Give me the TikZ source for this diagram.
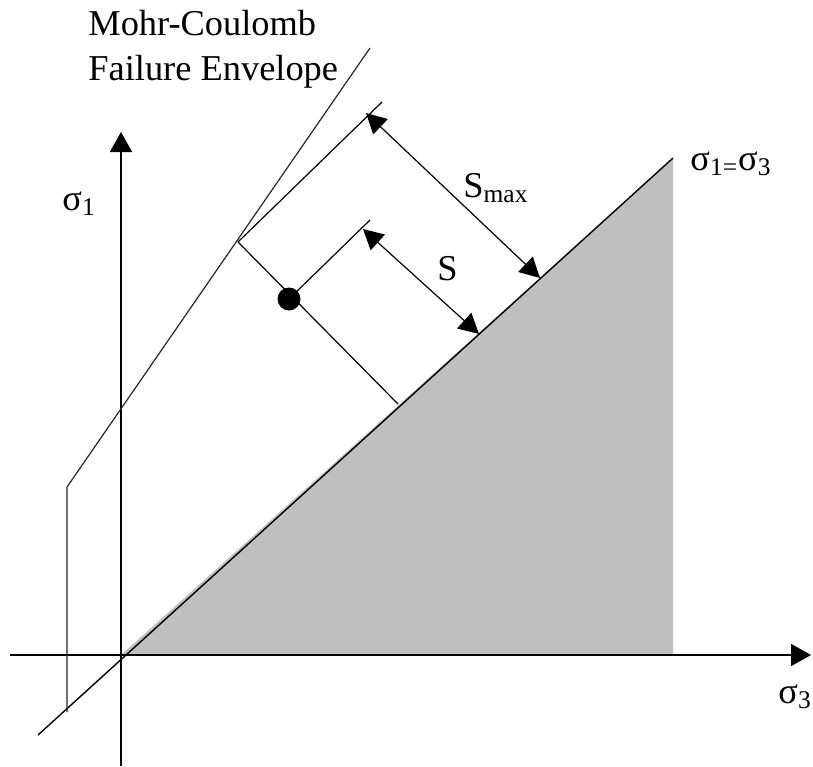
\documentclass[tikz,border=0pt]{standalone}
\usepackage{fontspec}
\setmainfont{Liberation Serif}
\usetikzlibrary{arrows.meta}
\begin{document}
\begin{tikzpicture}[x=0.5pt, y=-0.5pt]
        \useasboundingbox (0,0) rectangle (813,766);
        \tikzstyle{every node}=[inner sep=0pt, font=\fontsize{18.2}{22.5}\selectfont]
        \tikzstyle{tip}=[-{Triangle[length=10pt, width=11pt]}]
        \tikzstyle{both}=[{Triangle[length=10pt, width=10.5pt]}-{Triangle[length=10pt, width=10.5pt]}]
        % points of the plot
        \coordinate (o)      at (121, 655);
        \coordinate (xs)     at (10,  655);
        \coordinate (xe)     at (811, 655);
        \coordinate (ys)     at (121, 766);
        \coordinate (ye)     at (121, 132);
        \coordinate (dlow)   at (38,  735);
        \coordinate (dtop)   at (673, 158);
        \coordinate (dfoot)  at (673, 655);
        \coordinate (elow)   at (67,  712);
        \coordinate (ekink)  at (67,  487);
        \coordinate (etop)   at (370, 48);
        \coordinate (kink)   at (238, 242);
        \coordinate (kend)   at (382, 102);
        \coordinate (perp)   at (398, 404);
        \coordinate (send)   at (370, 220);
        \coordinate (smaxa)  at (366, 113);
        \coordinate (smaxb)  at (540, 278);
        \coordinate (sa)     at (363, 229);
        \coordinate (sb)     at (479, 334);
        \fill[black!25] (o) -- (dtop) -- (dfoot) -- cycle;
        \draw[tip, line width=0.9pt] (xs) -- (xe);
        \draw[tip, line width=0.9pt] (ys) -- (ye);
        \draw[line width=0.7pt] (dlow) -- (dtop);
        \draw[line width=0.6pt, black!85] (elow) -- (ekink) -- (etop);
        \draw[line width=0.6pt] (kink) -- (kend);
        \draw[line width=0.6pt] (kink) -- (perp);
        \node[circle, fill=black, minimum size=11.5pt] (pt) at (289, 299) {};
        \draw[line width=0.6pt] (pt.center) -- (send);
        \draw[both, line width=0.6pt] (smaxa) -- (smaxb);
        \draw[both, line width=0.6pt] (sa) -- (sb);
        % labels
        \node[anchor=base west] (mc)    at (88,  35)  {Mohr-Coulomb};
        \node[anchor=base west] (fe)    at (88,  80)  {Failure Envelope};
        \node[anchor=base west] (sig1)  at (62,  210) {σ\textsubscript{1}};
        \node[anchor=base west] (sig3)  at (778, 703) {σ\textsubscript{3}};
        \node[anchor=base west] (equal) at (690, 170) {σ\textsubscript{1=}σ\textsubscript{3}};
        \node[anchor=base west] (smax)  at (463, 197) {S\textsubscript{max}};
        \node[anchor=base west] (s)     at (437, 280) {S};
    \end{tikzpicture}
\end{document}
